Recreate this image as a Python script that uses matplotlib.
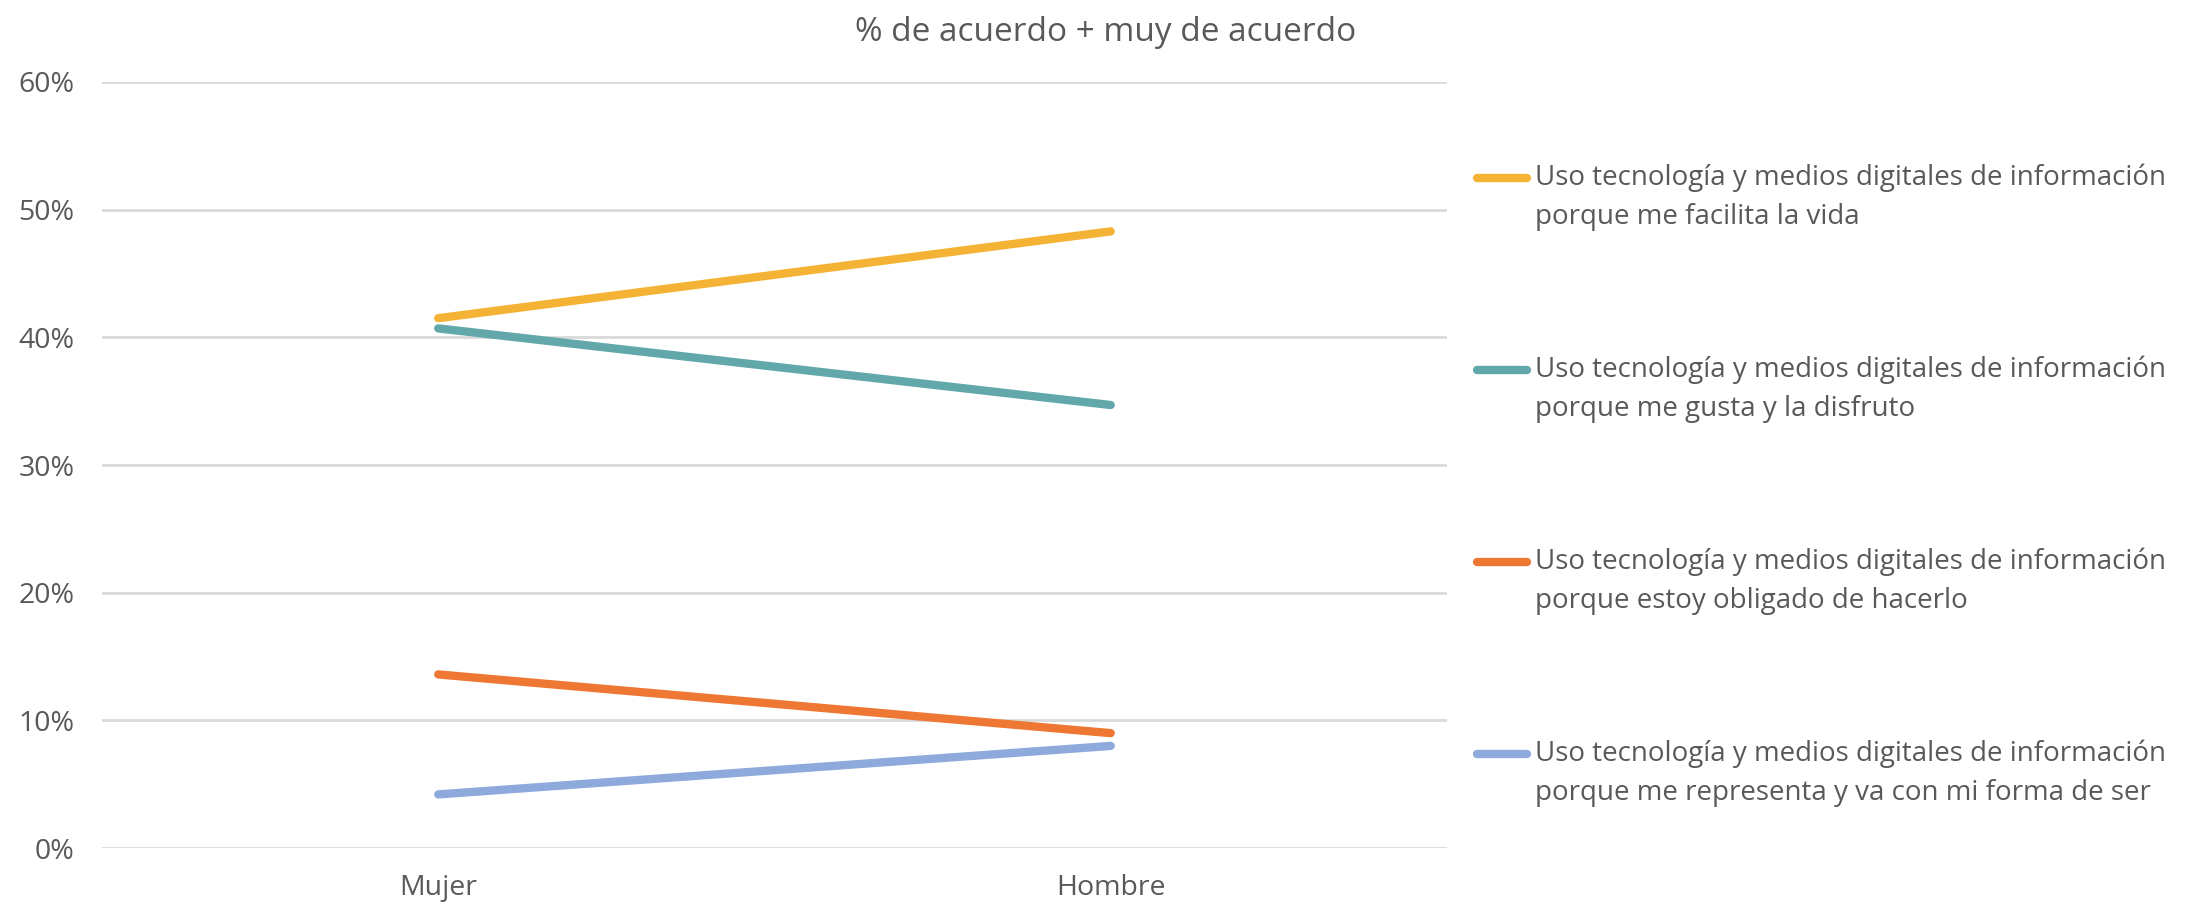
import matplotlib
matplotlib.use("Agg")
import matplotlib.pyplot as plt
from matplotlib.lines import Line2D
from matplotlib.ticker import PercentFormatter

plt.rcParams['font.family'] = ['Open Sans', 'DejaVu Sans']

# datos
categorias = ["Mujer", "Hombre"]
facilita = [0.415, 0.483]
disfruto = [0.407, 0.347]
obligado = [0.136, 0.090]
representa = [0.042, 0.080]

etiquetas = [
    "Uso tecnología y medios digitales de información\nporque me facilita la vida",
    "Uso tecnología y medios digitales de información\nporque me gusta y la disfruto",
    "Uso tecnología y medios digitales de información\nporque estoy obligado de hacerlo",
    "Uso tecnología y medios digitales de información\nporque me representa y va con mi forma de ser",
]
colores = ["#F5B335", "#62A8AA", "#EE7734", "#8EAADC"]
series = [facilita, disfruto, obligado, representa]

gris = "#595959"
W, H = 2198, 907

fig = plt.figure(figsize=(W / 100, H / 100), dpi=100)
ax = fig.add_axes([0.0464, 0.065, 0.6119, 0.8446])

x = range(len(categorias))
for vals, lab, col in zip(series, etiquetas, colores):
    ax.plot(x, vals, color=col, lw=6, solid_capstyle='round', label=lab)

ax.set_xlim(-0.5, 1.5)
ax.set_ylim(0, 0.6)
ax.set_yticks([0, 0.1, 0.2, 0.3, 0.4, 0.5, 0.6])
ax.yaxis.set_major_formatter(PercentFormatter(1.0, decimals=0))
ax.set_xticks(list(x))
ax.set_xticklabels(categorias)
ax.tick_params(axis='both', length=0, labelsize=20.5, labelcolor=gris)
ax.tick_params(axis='y', pad=20)
ax.tick_params(axis='x', pad=19)
ax.grid(axis='y', color="#D9D9D9", lw=2)
ax.set_axisbelow(True)
for s in ax.spines.values():
    s.set_visible(False)

fig.text(0.503, 0.982, "% de acuerdo + muy de acuerdo", ha='center', va='top',
         fontsize=24, color=gris)

# leyenda a mano (linea a la altura del primer renglon)
for i, (lab, col) in enumerate(zip(etiquetas, colores)):
    y0 = 178 + i * 192
    yf = 1 - y0 / H
    fig.add_artist(Line2D([1477 / W, 1527 / W], [yf, yf], color=col, lw=6,
                          solid_capstyle='round'))
    for j, renglon in enumerate(lab.split("\n")):
        fig.text(1535 / W, 1 - (y0 + j * 39) / H, renglon, ha='left',
                 va='center', fontsize=20, color=gris)

fig.savefig("out.png", dpi=100)
